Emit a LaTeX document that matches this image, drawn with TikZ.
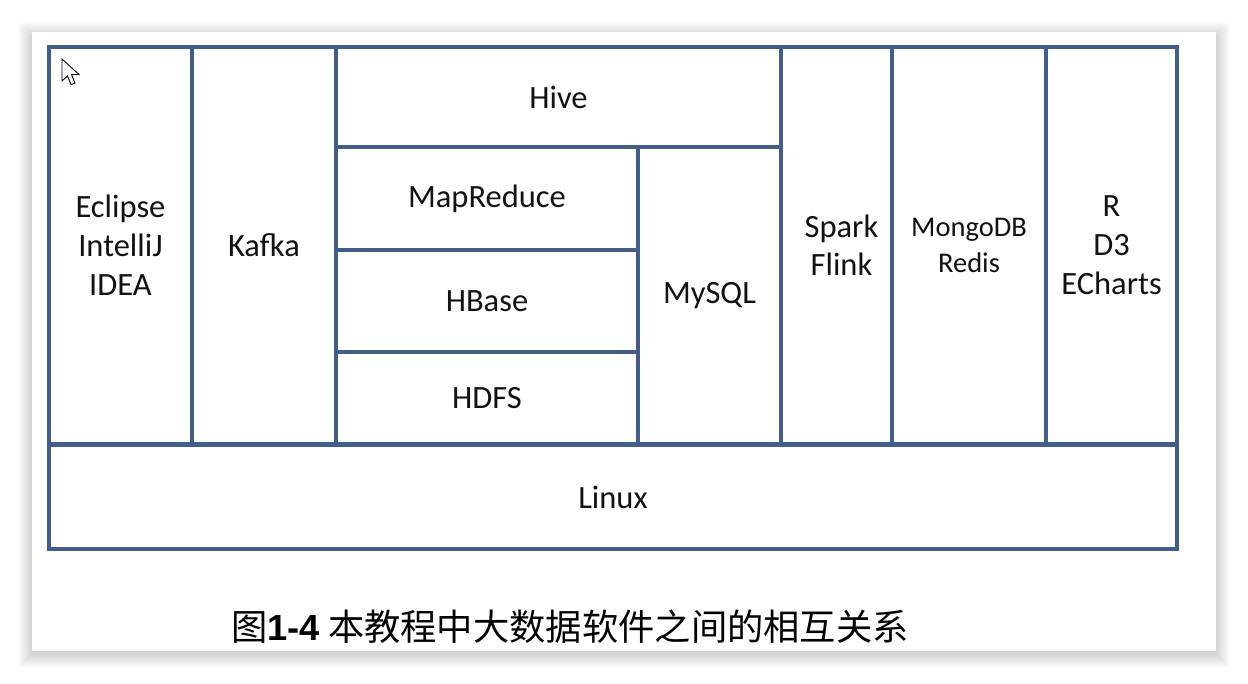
\documentclass[tikz,border=0pt]{standalone}
\usepackage{fontspec}
\setmainfont{Carlito}
\newfontfamily\cjk{Noto Sans CJK SC}
\newfontfamily\arialfont{Liberation Sans}
\definecolor{boxline}{RGB}{66,94,136}
\definecolor{txt}{RGB}{18,18,18}
\begin{document}
\begin{tikzpicture}[x=1pt,y=-1pt,
  cell/.style={draw=boxline, line width=3.6pt, fill=white, inner sep=0pt, outer sep=0pt,
    align=center, text=txt, font=\fontsize{32.5}{39}\selectfont},
  smalltxt/.style={font=\fontsize{28.5}{36}\selectfont}]
\useasboundingbox (0,0) rectangle (1248,683);
\fill[white] (0,0) rectangle (1248,683);
% card shadow
\foreach \i in {1,...,14}{
  \fill[black, opacity=0.011] (32-\i,32-\i+4) rectangle (1216+\i,651+\i+3);
}
\fill[white] (32,32) rectangle (1216,651);
% cells
\node[cell, minimum width=1128pt, minimum height=104pt] (linux) at (613,497) {Linux};
\node[cell, minimum width=143pt, minimum height=397pt] (ide) at (120.5,245.5) {Eclipse\\IntelliJ\\IDEA};
\node[cell, minimum width=144pt, minimum height=397pt] (kafka) at (264,245.5) {Kafka};
\node[cell, minimum width=445pt, minimum height=100pt] (hive) at (558.5,97) {Hive};
\node[cell, minimum width=302pt, minimum height=103pt] (mr) at (487,198.5) {MapReduce};
\node[cell, minimum width=302pt, minimum height=102pt] (hbase) at (487,301) {HBase};
\node[cell, minimum width=302pt, minimum height=92pt] (hdfs) at (487,398) {HDFS};
\node[cell, minimum width=143pt, minimum height=297pt] (mysql) at (709.5,295.5) {MySQL};
\node[cell, minimum width=111pt, minimum height=397pt, font=\fontsize{32.5}{38}\selectfont] (spark) at (836.5,245.5) {\hspace*{10pt}Spark\\\hspace*{10pt}Flink};
\node[cell, smalltxt, minimum width=154pt, minimum height=397pt] (nosql) at (969,245.5) {MongoDB\\Redis};
\node[cell, minimum width=131pt, minimum height=397pt] (vis) at (1111.5,245.5) {R\\D3\\ECharts};
% mouse cursor
\filldraw[fill=white, draw=black, line width=0.9pt, line join=miter]
  (62,59) -- (62,81) -- (67.5,76) -- (71,84.5) -- (75,83) -- (71.5,74.5) -- (79,74.5) -- cycle;
% caption
\node[anchor=base west, inner sep=0pt, text=black] (caption) at (231,640)
  {\fontsize{36.3}{40}\selectfont\cjk 图{\arialfont\bfseries 1-4} 本教程中大数据软件之间的相互关系};
\end{tikzpicture}
\end{document}
